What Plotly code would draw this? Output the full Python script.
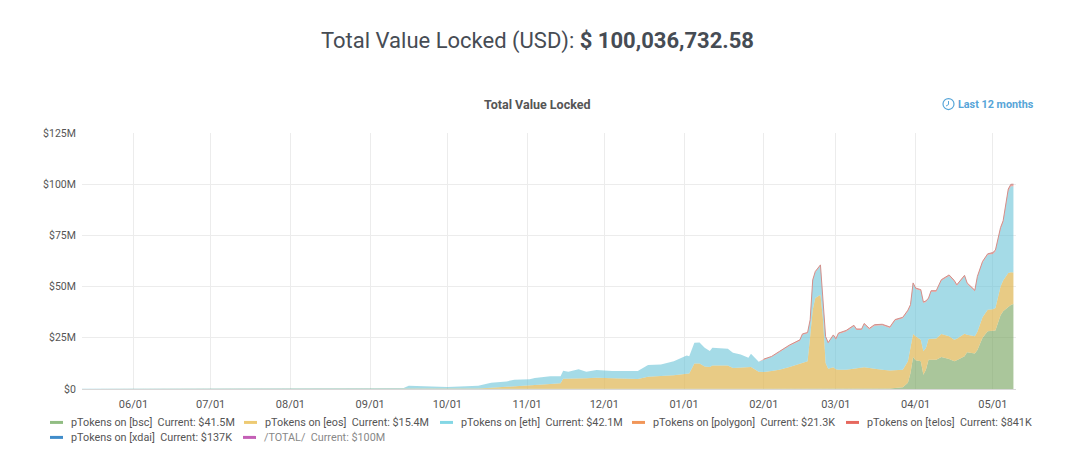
import plotly.graph_objects as go

# dates of the samples
dates = [
    "2020-05-12", "2020-05-25", "2020-06-10", "2020-06-25", "2020-07-10", "2020-07-22", "2020-08-05", "2020-08-20",
    "2020-09-05", "2020-09-12", "2020-09-14", "2020-09-16", "2020-09-25", "2020-10-01", "2020-10-13", "2020-10-18",
    "2020-10-24", "2020-10-27", "2020-11-02", "2020-11-04", "2020-11-10", "2020-11-14", "2020-11-15", "2020-11-17",
    "2020-11-21", "2020-11-24", "2020-11-28", "2020-12-04", "2020-12-14", "2020-12-18", "2020-12-23", "2020-12-28",
    "2021-01-02", "2021-01-03", "2021-01-05", "2021-01-07", "2021-01-09", "2021-01-11", "2021-01-12", "2021-01-18",
    "2021-01-20", "2021-01-23", "2021-01-26", "2021-01-27", "2021-01-30",
    "2021-02-01", "2021-02-04", "2021-02-07", "2021-02-11", "2021-02-15", "2021-02-16", "2021-02-18", "2021-02-19",
    "2021-02-20", "2021-02-21", "2021-02-23", "2021-02-24", "2021-02-25", "2021-02-26", "2021-02-28",
    "2021-03-01", "2021-03-02", "2021-03-05", "2021-03-08", "2021-03-09", "2021-03-11", "2021-03-12", "2021-03-14",
    "2021-03-16", "2021-03-19", "2021-03-22", "2021-03-24", "2021-03-27", "2021-03-29", "2021-03-30", "2021-03-31",
    "2021-04-01", "2021-04-03", "2021-04-04", "2021-04-05", "2021-04-06", "2021-04-07", "2021-04-09", "2021-04-11",
    "2021-04-14", "2021-04-16", "2021-04-17", "2021-04-20", "2021-04-21", "2021-04-24", "2021-04-25", "2021-04-27",
    "2021-04-29", "2021-05-01", "2021-05-02", "2021-05-04", "2021-05-05", "2021-05-07", "2021-05-08", "2021-05-09",
]

# values in $M
bsc_vals = [0] * 70 + [
    0.2, 0.5, 0.8, 3, 7.8, 15.6,
    14, 13.5, 7, 9.4, 14.3, 14.3, 14.3, 15.6, 14.6, 13.5, 14, 16, 18, 17.3, 19, 25, 28.2,
    28.4, 28.6, 36, 38, 40, 41, 41.5,
]
eos_vals = [
    0, 0, 0, 0, 0, 0, 0, 0, 0, 0, 0, 0, 0, 0, 0.2, 0.6, 1.2, 1.4, 1.8, 2.0, 2.5, 2.8, 5.0, 5.0, 5.2, 5.2, 5.5,
    5.3, 4.9, 6.0, 6.3, 6.7, 7.4, 7.6, 12.5, 12.5, 11.0, 10.8, 11.5, 11.5, 10.3, 10.4, 10.6, 10.7, 8.4,
    8.3, 8.8, 9.4, 10.8, 12.2, 12.6, 13.5, 25.7, 38.7, 44.4, 46.0, 33.9, 12.7, 9.9, 10.6,
    9.6, 9.4, 9.4, 10, 10.2, 10.4, 10.6, 10.2, 9.8, 9.4, 8.8, 8.6, 8.6, 10.5, 13, 11.3,
    11.7, 10.5, 11.4, 10.6, 10.1, 10.2, 10.3, 11.3, 11.1, 10.5, 10.5, 11, 8.5, 8.4, 9, 10, 10.5,
    10.6, 10.9, 14.1, 15, 16.6, 16, 15.4,
]
eth_vals = [
    0.1, 0.12, 0.15, 0.2, 0.25, 0.35, 0.3, 0.35, 0.3, 0.25, 0.5, 1.6, 1.3, 1.0, 1.4, 2.5, 2.5, 3.1, 2.9, 3.4, 3.7,
    3.4, 3.9, 3.4, 4.4, 3.2, 3.8, 3.5, 3.9, 5.7, 5.7, 6.9, 9.0, 8.4, 10.1, 10.2, 9.1, 7.7, 8.6, 8.1, 7.4, 6.5,
    4.7, 6.5, 4.9,
    6.0, 6.8, 8.5, 10.3, 11.4, 13.9, 13.7, 7.7, 14.2, 12.6, 14.2, 7.6, 12.5, 12.4, 15.4,
    14.5, 17.4, 18.7, 20.6, 18.6, 18.4, 20.9, 18.9, 21.1, 21.7, 20.8, 24.3, 25.1, 24.5, 19.9, 24.4,
    23.1, 24, 23.6, 22.5, 19.5, 23, 22.9, 26, 29.5, 28.5, 25.9, 28, 24.8, 22, 26.5, 26.8, 26.8,
    26.9, 27.6, 27.9, 28.3, 40.1, 42, 42.1,
]
polygon_vals = [0] * 93 + [0.02, 0.02, 0.02, 0.02, 0.02, 0.02, 0.021]
telos_vals = [0] * 45 + [
    0.3, 0.3, 0.4, 0.4, 0.4, 0.4, 0.4, 0.4, 0.4, 0.4, 0.4, 0.4, 0.4, 0.4, 0.4,
    0.5, 0.5, 0.5, 0.5, 0.5, 0.5, 0.5, 0.5, 0.5, 0.5, 0.5, 0.5, 0.5, 0.5, 0.5, 0.5,
    0.5, 0.5, 0.5, 0.5, 0.5, 0.5, 0.5, 0.5, 0.5, 0.5, 0.5, 0.5, 0.5, 0.5, 0.5, 0.5, 0.5,
    0.6, 0.6, 0.7, 0.7, 0.8, 0.8, 0.841,
]
xdai_vals = [0] * 93 + [0.1, 0.1, 0.12, 0.12, 0.13, 0.13, 0.137]
total_vals = [sum(v) for v in zip(bsc_vals, eos_vals, eth_vals, polygon_vals, telos_vals, xdai_vals)]

y_ticks = [0, 25, 50, 75, 100, 125]
y_labels = ["$0", "$25M", "$50M", "$75M", "$100M", "$125M"]

legend_names = ["pTokens on [bsc]", "pTokens on [eos]", "pTokens on [eth]", "pTokens on [polygon]",
                "pTokens on [telos]", "pTokens on [xdai]", "/TOTAL/"]
legend_current = ["$41.5M", "$15.4M", "$42.1M", "$21.3K", "$841K", "$137K", "$100M"]
legend_colors = ["#7eb26d", "#eac15a", "#6ed0e0", "#ef843c", "#e24d42", "#1f78c1", "#ba43a9"]
legend_px = [50, 244, 440, 632, 846, 50, 243]
legend_py = [423, 423, 423, 423, 423, 438, 438]

# plot area in pixels
L, R, T, B = 82, 1016, 133, 389.5


def xp(px):
    return (px - L) / (R - L)


def yp(py):
    return (B - py) / (B - T)


fig = go.Figure()

series = [bsc_vals, eos_vals, eth_vals, polygon_vals, telos_vals, xdai_vals]
fills = ["rgba(124,167,101,0.65)", "rgba(223,183,86,0.72)", "rgba(105,195,215,0.6)", "rgba(239,132,60,0.6)",
         "rgba(226,77,66,0.5)", "rgba(31,120,193,0.5)"]
for name, vals, fill in zip(legend_names, series, fills):
    fig.add_trace(go.Scatter(x=dates, y=vals, name=name, stackgroup="one", mode="lines",
                             line=dict(width=0), fillcolor=fill))

# only the later part of the total shows above the stack
fig.add_trace(go.Scatter(x=dates[45:], y=total_vals[45:], name="/TOTAL/", mode="lines",
                         line=dict(width=1, color="#d38f8a")))

text_color = "#464c54"
annotations = [
    dict(x=xp(537), y=yp(41), xanchor="center", yanchor="middle", showarrow=False,
         text='Total Value Locked (USD): <b>$ 100,036,732.58</b>',
         font=dict(family="Roboto", size=22, color=text_color)),
    dict(x=xp(537), y=yp(104), xanchor="center", yanchor="middle", showarrow=False,
         text="<b>Total Value Locked</b>", font=dict(family="Roboto", size=12.5, color="#555555")),
    dict(x=xp(955.5), y=yp(104), xanchor="left", yanchor="middle", showarrow=False,
         text="<b>Last 12 months</b>", font=dict(family="Roboto", size=10.8, color="#57a5d8")),
]

shapes = [
    dict(type="circle", xref="paper", yref="paper", x0=xp(943), x1=xp(954), y0=yp(98.5), y1=yp(109.5),
         line=dict(color="#57a5d8", width=1.2)),
    dict(type="line", xref="paper", yref="paper", x0=xp(948.5), x1=xp(948.5), y0=yp(101), y1=yp(104.5),
         line=dict(color="#57a5d8", width=1)),
    dict(type="line", xref="paper", yref="paper", x0=xp(948.5), x1=xp(946), y0=yp(104.5), y1=yp(106),
         line=dict(color="#57a5d8", width=1)),
]

# legend is drawn by hand, the source one has short bars and a "Current" column
for name, cur, col, px, py in zip(legend_names, legend_current, legend_colors, legend_px, legend_py):
    shapes.append(dict(type="rect", xref="paper", yref="paper", x0=xp(px), x1=xp(px + 13),
                       y0=yp(py + 1.5), y1=yp(py - 1.5), fillcolor=col, opacity=0.85, line=dict(width=0)))
    tcol = "#888888" if name == "/TOTAL/" else "#555555"
    annotations.append(dict(x=xp(px + 19), y=yp(py), xanchor="left", yanchor="middle", showarrow=False,
                            text=f"{name}  Current: {cur}", font=dict(family="Roboto", size=10.8, color=tcol)))

fig.update_layout(
    width=1080,
    height=469,
    margin=dict(l=L, r=1080 - R, t=T, b=469 - B),
    paper_bgcolor="white",
    plot_bgcolor="white",
    showlegend=False,
    font=dict(family="Roboto", size=11, color="#555555"),
    annotations=annotations,
    shapes=shapes,
)
for a in fig.layout.annotations:
    a.xref = "paper"
    a.yref = "paper"
fig.update_xaxes(type="date", range=["2020-05-12", "2021-05-10"], dtick="M1", tick0="2020-06-01",
                 tickformat="%m/%d", gridcolor="#ececec", showline=True, linecolor="#d8d8d8",
                 ticks="outside", ticklen=5, tickcolor="rgba(0,0,0,0)",
                 tickfont=dict(size=11, color="#555555"))
fig.update_yaxes(range=[0, 125], tickvals=y_ticks, ticktext=y_labels, gridcolor="#ececec", zeroline=False,
                 ticks="outside", ticklen=3, tickcolor="rgba(0,0,0,0)",
                 tickfont=dict(size=10.5, color="#555555"))

# the page keeps the browser's default body margin otherwise
fig.write_html("out.html", post_script="document.body.style.margin='0';", config={"displayModeBar": False})
